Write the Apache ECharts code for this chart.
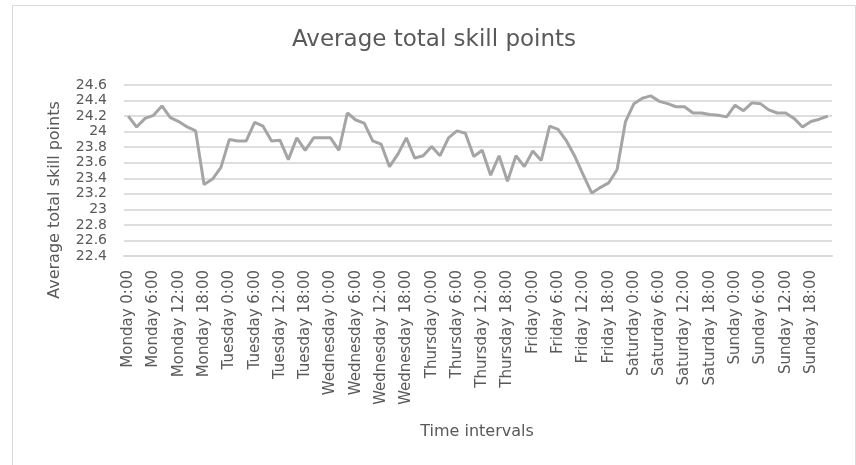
<!DOCTYPE html>
<html>
<head>
<meta charset="utf-8">
<script src="https://cdn.jsdelivr.net/npm/echarts@6/dist/echarts.min.js"></script>
<style>
  html, body { margin: 0; padding: 0; background: #fff; }
  #chart { width: 856px; height: 465px; }
</style>
</head>
<body>
<div id="chart"></div>
<script>
// categories: every 2 hours, Monday to Sunday
var days = ["Monday", "Tuesday", "Wednesday", "Thursday", "Friday", "Saturday", "Sunday"];
var hours = ["0:00", "2:00", "4:00", "6:00", "8:00", "10:00", "12:00", "14:00", "16:00", "18:00", "20:00", "22:00"];
var categories = [];
days.forEach(function (d) {
    hours.forEach(function (h) { categories.push(d + " " + h); });
});

// average total skill points
var monday    = [24.20, 24.06, 24.17, 24.21, 24.33, 24.18, 24.13, 24.06, 24.01, 23.32, 23.39, 23.54];
var tuesday   = [23.90, 23.88, 23.88, 24.12, 24.07, 23.88, 23.89, 23.64, 23.92, 23.76, 23.92, 23.92];
var wednesday = [23.92, 23.76, 24.24, 24.15, 24.11, 23.88, 23.84, 23.55, 23.71, 23.92, 23.66, 23.69];
var thursday  = [23.81, 23.69, 23.92, 24.01, 23.98, 23.68, 23.76, 23.44, 23.69, 23.36, 23.69, 23.55];
var friday    = [23.75, 23.63, 24.07, 24.03, 23.88, 23.68, 23.44, 23.21, 23.28, 23.34, 23.51, 24.13];
var saturday  = [24.36, 24.43, 24.46, 24.39, 24.36, 24.32, 24.32, 24.24, 24.24, 24.22, 24.21, 24.19];
var sunday    = [24.34, 24.27, 24.37, 24.36, 24.28, 24.24, 24.24, 24.17, 24.06, 24.13, 24.16, 24.20];
var values = [].concat(monday, tuesday, wednesday, thursday, friday, saturday, sunday);

var yMin = 22.4, yMax = 24.6, yStep = 0.2;

var font = "DejaVu Sans";
var textColor = "#595959";

var chart = echarts.init(document.getElementById("chart"));
var option = {
    animation: false,
    grid: { left: 124, right: 24, top: 85, bottom: 209 },
    graphic: [
        {
            type: "rect",
            shape: { x: 12.5, y: 5.5, width: 843, height: 470 },
            style: { fill: "none", stroke: "#d9d9d9", lineWidth: 1 },
            silent: true
        },
        {
            type: "text", x: 434, y: 40,
            style: { text: "Average total skill points", font: "23px " + font, fill: textColor, align: "center", verticalAlign: "middle" }
        },
        {
            type: "text", x: 477, y: 432,
            style: { text: "Time intervals", font: "16px " + font, fill: textColor, align: "center", verticalAlign: "middle" }
        },
        {
            type: "text", x: 55, y: 200, rotation: Math.PI / 2,
            style: { text: "Average total skill points", font: "16px " + font, fill: textColor, align: "center", verticalAlign: "middle" }
        }
    ],
    xAxis: {
        type: "category",
        data: categories,
        boundaryGap: true,
        axisTick: { show: false },
        axisLine: { lineStyle: { color: "#d9d9d9", width: 2 } },
        axisLabel: {
            interval: 2,
            rotate: 90,
            margin: 14,
            color: textColor,
            fontFamily: font,
            fontSize: 15
        }
    },
    yAxis: {
        type: "value",
        min: yMin,
        max: yMax,
        interval: yStep,
        axisLine: { show: false },
        axisTick: { show: false },
        splitLine: { lineStyle: { color: "#dedede", width: 2 } },
        axisLabel: {
            margin: 17,
            color: textColor,
            fontFamily: font,
            fontSize: 14,
            formatter: function (v) { return String(Math.round(v * 10) / 10); }
        }
    },
    series: [{
        type: "line",
        data: values,
        symbol: "none",
        lineStyle: { color: "#a5a5a5", width: 3 }
    }]
};
chart.setOption(option);
</script>
</body>
</html>
